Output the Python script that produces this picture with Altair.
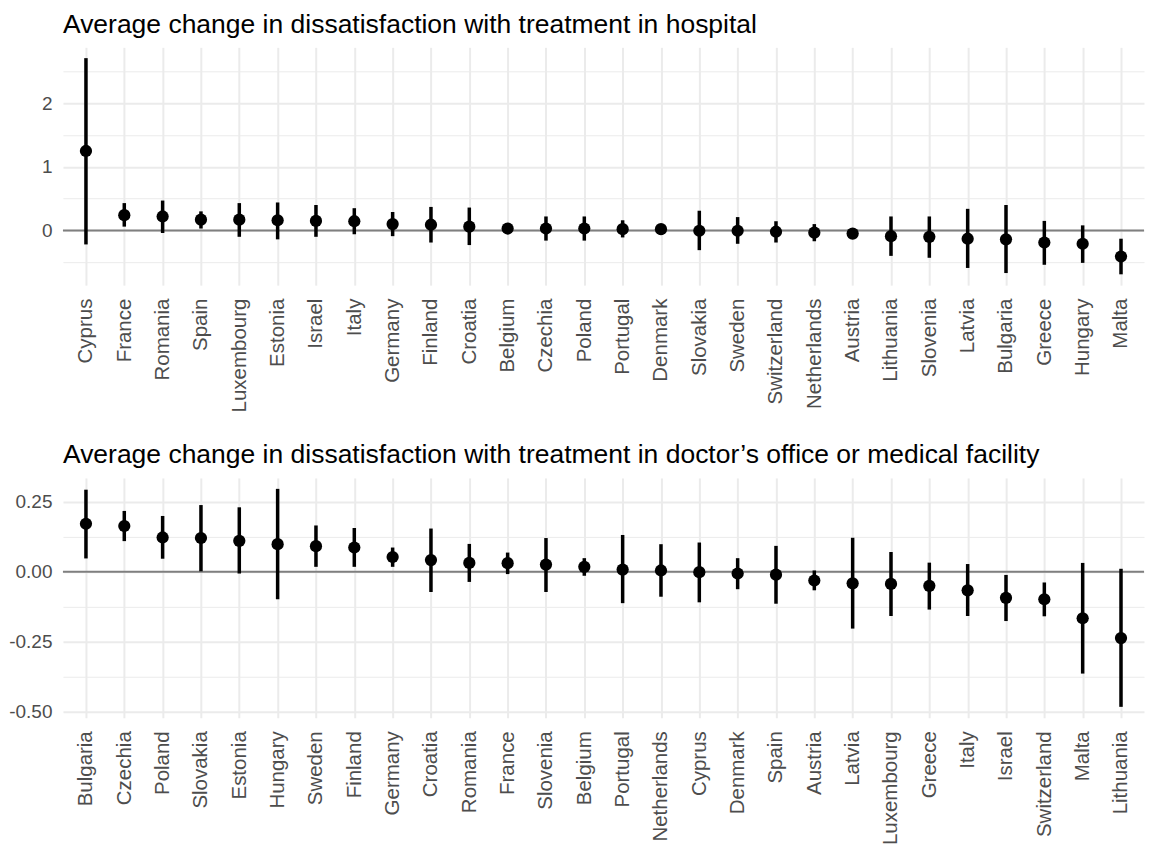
import altair as alt
import pandas as pd

# ---- Panel 1: hospital ----
TOP_TITLE = "Average change in dissatisfaction with treatment in hospital"
top_countries = ["Cyprus", "France", "Romania", "Spain", "Luxembourg", "Estonia", "Israel",
                 "Italy", "Germany", "Finland", "Croatia", "Belgium", "Czechia", "Poland",
                 "Portugal", "Denmark", "Slovakia", "Sweden", "Switzerland", "Netherlands",
                 "Austria", "Lithuania", "Slovenia", "Latvia", "Bulgaria", "Greece",
                 "Hungary", "Malta"]
top_est = [1.25, 0.24, 0.22, 0.17, 0.17, 0.16, 0.15, 0.145, 0.10, 0.09, 0.06, 0.03, 0.03,
           0.03, 0.02, 0.02, -0.005, -0.005, -0.02, -0.035, -0.05, -0.09, -0.10, -0.13,
           -0.14, -0.19, -0.21, -0.41]
top_lo = [-0.22, 0.06, -0.04, 0.03, -0.10, -0.14, -0.10, -0.06, -0.09, -0.19, -0.23, -0.01,
          -0.16, -0.16, -0.11, -0.07, -0.31, -0.21, -0.19, -0.17, -0.12, -0.40, -0.43,
          -0.59, -0.67, -0.54, -0.51, -0.69]
top_hi = [2.71, 0.43, 0.47, 0.30, 0.43, 0.44, 0.40, 0.35, 0.29, 0.37, 0.36, 0.07, 0.22,
          0.22, 0.16, 0.09, 0.31, 0.21, 0.145, 0.10, 0.02, 0.22, 0.22, 0.34, 0.40, 0.15,
          0.08, -0.13]
top_domain = [-0.86, 2.88]
top_major = [0, 1, 2]
top_minor = [-0.5, 0.5, 1.5, 2.5]

# ---- Panel 2: doctor's office ----
BOT_TITLE = "Average change in dissatisfaction with treatment in doctor\u2019s office or medical facility"
bot_countries = ["Bulgaria", "Czechia", "Poland", "Slovakia", "Estonia", "Hungary", "Sweden",
                 "Finland", "Germany", "Croatia", "Romania", "France", "Slovenia", "Belgium",
                 "Portugal", "Netherlands", "Cyprus", "Denmark", "Spain", "Austria", "Latvia",
                 "Luxembourg", "Greece", "Italy", "Israel", "Switzerland", "Malta",
                 "Lithuania"]
bot_est = [0.172, 0.164, 0.123, 0.121, 0.111, 0.099, 0.092, 0.087, 0.053, 0.042, 0.032,
           0.031, 0.026, 0.018, 0.008, 0.005, -0.001, -0.006, -0.010, -0.031, -0.041,
           -0.043, -0.050, -0.066, -0.093, -0.098, -0.166, -0.237]
bot_lo = [0.048, 0.110, 0.047, 0.002, -0.006, -0.098, 0.018, 0.018, 0.018, -0.072, -0.036,
          -0.008, -0.072, -0.014, -0.112, -0.089, -0.109, -0.062, -0.114, -0.066, -0.203,
          -0.158, -0.135, -0.158, -0.176, -0.159, -0.364, -0.483]
bot_hi = [0.294, 0.218, 0.200, 0.239, 0.231, 0.297, 0.166, 0.157, 0.087, 0.155, 0.100,
          0.069, 0.121, 0.049, 0.132, 0.099, 0.105, 0.049, 0.093, 0.005, 0.122, 0.071,
          0.033, 0.028, -0.011, -0.038, 0.032, 0.011]
bot_domain = [-0.522, 0.336]
bot_major = [-0.5, -0.25, 0, 0.25]
bot_minor = [-0.375, -0.125, 0.125]

ZERO = [0]

FONT = "Liberation Sans"
GRID = "#EBEBEB"
LABEL_COLOR = "#4D4D4D"


def panel(countries, est, lo, hi, title, domain, major, minor, label_expr, width, height):
    df = pd.DataFrame({"country": countries, "est": est, "lo": lo, "hi": hi})
    minor_js = "[" + ",".join(str(v) for v in minor) + "]"
    xaxis = alt.Axis(title=None, labelAngle=270, labelFontSize=20.5, labelFont=FONT,
                     labelColor=LABEL_COLOR, labelPadding=13, ticks=False, domain=False,
                     grid=True, gridColor=GRID, gridWidth=2, labelOverlap=False)
    xscale = alt.Scale(type="point", padding=0.6)
    yscale = alt.Scale(domain=domain, nice=False, zero=False)
    yaxis = alt.Axis(
        title=None, values=sorted(major + minor), labelExpr=label_expr,
        grid=True, gridColor=GRID,
        gridWidth={"condition": {"test": f"indexof({minor_js}, datum.value) >= 0", "value": 1},
                   "value": 2},
        ticks=False, domain=False, labelFontSize=19, labelFont=FONT, labelColor=LABEL_COLOR,
        labelPadding=11, labelOverlap=False,
    )
    base = alt.Chart(df)
    bars = base.mark_rule(color="black", strokeWidth=3.5).encode(
        x=alt.X("country:N", sort=countries, scale=xscale, axis=xaxis),
        y=alt.Y("lo:Q", scale=yscale, axis=yaxis),
        y2="hi:Q",
    )
    zero = alt.Chart(pd.DataFrame({"z": ZERO})).mark_rule(color="#7F7F7F", strokeWidth=2).encode(
        y=alt.Y("z:Q", scale=yscale, axis=yaxis)
    )
    pts = base.mark_circle(size=150, color="black", opacity=1).encode(
        x=alt.X("country:N", sort=countries, scale=xscale, axis=xaxis),
        y=alt.Y("est:Q", scale=yscale, axis=yaxis),
    )
    return alt.layer(zero, bars, pts).properties(
        width=width, height=height,
        title=alt.TitleParams(title, anchor="start", frame="group", fontSize=26.5, font=FONT,
                              fontWeight="normal", color="black", offset=9),
    )


top_expr = "datum.value % 1 == 0 ? format(datum.value, 'd') : ''"
bot_expr = ("indexof([-0.375,-0.125,0.125], datum.value) >= 0 ? '' : "
            "(datum.value < 0 ? '-' : '') + format(abs(datum.value), '.2f')")

top = panel(top_countries, top_est, top_lo, top_hi, TOP_TITLE, top_domain, top_major,
            top_minor, top_expr, 1082, 238)
bot = panel(bot_countries, bot_est, bot_lo, bot_hi, BOT_TITLE, bot_domain, bot_major,
            bot_minor, bot_expr, 1082, 240)

chart = alt.vconcat(top, bot, spacing=30).properties(
    padding={"top": 3, "left": 0, "right": 0, "bottom": 0}, background="white"
).resolve_scale(
    x="independent", y="independent"
).configure_view(strokeWidth=0, stroke="transparent")

chart.save("out.html", embed_options={"renderer": "svg", "actions": False})
